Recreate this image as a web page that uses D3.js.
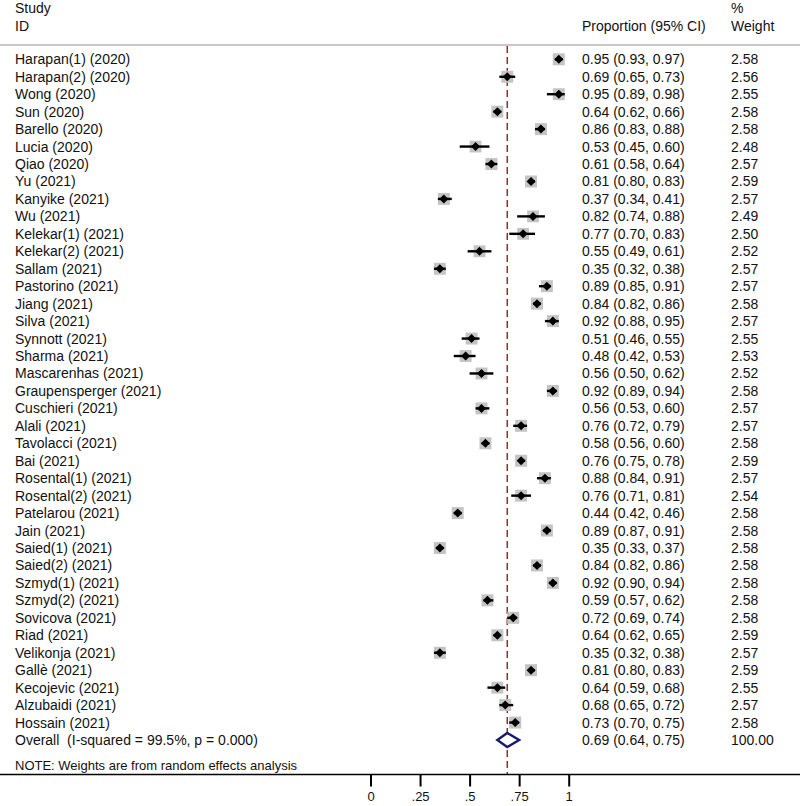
<!DOCTYPE html>
<html>
<head>
<meta charset="utf-8">
<script src="https://cdn.jsdelivr.net/npm/d3@7"></script>
<style>
  html, body { margin: 0; padding: 0; background: #fff; }
  svg { display: block; }
  text { font-family: "Liberation Sans", Arial, sans-serif; fill: #111; white-space: pre; }
</style>
</head>
<body>
<svg id="chart" width="800" height="806"></svg>
<script>
const studies = ["Harapan(1) (2020)","Harapan(2) (2020)","Wong (2020)","Sun (2020)","Barello (2020)","Lucia (2020)","Qiao (2020)","Yu (2021)","Kanyike (2021)","Wu (2021)","Kelekar(1) (2021)","Kelekar(2) (2021)","Sallam (2021)","Pastorino (2021)","Jiang (2021)","Silva (2021)","Synnott (2021)","Sharma (2021)","Mascarenhas (2021)","Graupensperger (2021)","Cuschieri (2021)","Alali (2021)","Tavolacci (2021)","Bai (2021)","Rosental(1) (2021)","Rosental(2) (2021)","Patelarou (2021)","Jain (2021)","Saied(1) (2021)","Saied(2) (2021)","Szmyd(1) (2021)","Szmyd(2) (2021)","Sovicova (2021)","Riad (2021)","Velikonja (2021)","Gallè (2021)","Kecojevic (2021)","Alzubaidi (2021)","Hossain (2021)"];
const est   = [0.95,0.69,0.95,0.64,0.86,0.53,0.61,0.81,0.37,0.82,0.77,0.55,0.35,0.89,0.84,0.92,0.51,0.48,0.56,0.92,0.56,0.76,0.58,0.76,0.88,0.76,0.44,0.89,0.35,0.84,0.92,0.59,0.72,0.64,0.35,0.81,0.64,0.68,0.73];
const lower = [0.93,0.65,0.89,0.62,0.83,0.45,0.58,0.80,0.34,0.74,0.70,0.49,0.32,0.85,0.82,0.88,0.46,0.42,0.50,0.89,0.53,0.72,0.56,0.75,0.84,0.71,0.42,0.87,0.33,0.82,0.90,0.57,0.69,0.62,0.32,0.80,0.59,0.65,0.70];
const upper = [0.97,0.73,0.98,0.66,0.88,0.60,0.64,0.83,0.41,0.88,0.83,0.61,0.38,0.91,0.86,0.95,0.55,0.53,0.62,0.94,0.60,0.79,0.60,0.78,0.91,0.81,0.46,0.91,0.37,0.86,0.94,0.62,0.74,0.65,0.38,0.83,0.68,0.72,0.75];
const weight = [2.58,2.56,2.55,2.58,2.58,2.48,2.57,2.59,2.57,2.49,2.50,2.52,2.57,2.57,2.58,2.57,2.55,2.53,2.52,2.58,2.57,2.57,2.58,2.59,2.57,2.54,2.58,2.58,2.58,2.58,2.58,2.58,2.58,2.59,2.57,2.59,2.55,2.57,2.58];
const overall = {label: "Overall  (I-squared = 99.5%, p = 0.000)", est: 0.69, lower: 0.64, upper: 0.75, weight: "100.00"};
const tickValues = [0, 0.25, 0.5, 0.75, 1];
const tickLabels = ["0", ".25", ".5", ".75", "1"];
const note = "NOTE: Weights are from random effects analysis";

const svg = d3.select("#chart");
const fmt = d3.format(".2f");

const x = d3.scaleLinear().domain([0, 1]).range([370.5, 568.7]);
const nRows = studies.length + 1;
const y = d3.scaleLinear().domain([0, nRows - 1]).range([59.3, 740]);
const boxSize = d3.scaleSqrt().domain([0, 2.59]).range([0, 12]);

const colLabel = 15, colCI = 582, colW = 731;
const fs = 14;

// header
svg.append("text").attr("x", colLabel).attr("y", 13).attr("font-size", fs).text("Study");
svg.append("text").attr("x", colLabel).attr("y", 31).attr("font-size", fs).text("ID");
svg.append("text").attr("x", colCI).attr("y", 31).attr("font-size", fs).text("Proportion (95% CI)");
svg.append("text").attr("x", colW).attr("y", 13).attr("font-size", fs).text("%");
svg.append("text").attr("x", colW).attr("y", 31).attr("font-size", fs).text("Weight");
svg.append("line").attr("x1", 0).attr("x2", 800).attr("y1", 45).attr("y2", 45)
  .attr("stroke", "#c8c8c8").attr("stroke-width", 2);

// reference dashed line at overall estimate
svg.append("line").attr("x1", x(overall.est)).attr("x2", x(overall.est))
  .attr("y1", 46).attr("y2", 774)
  .attr("stroke", "#9b2a2a").attr("stroke-width", 1.5).attr("stroke-dasharray", "7,4");

const rows = studies.map((s, i) => ({label: s, est: est[i], lo: lower[i], hi: upper[i], w: weight[i], i}));

const g = svg.append("g");
// weight boxes
g.selectAll("rect.box").data(rows).enter().append("rect")
  .attr("x", d => x(d.est) - boxSize(d.w) / 2)
  .attr("y", d => y(d.i) - boxSize(d.w) / 2)
  .attr("width", d => boxSize(d.w)).attr("height", d => boxSize(d.w))
  .attr("fill", "#c4c4c4");
// CI lines
g.selectAll("line.ci").data(rows).enter().append("line")
  .attr("x1", d => x(d.lo)).attr("x2", d => x(d.hi))
  .attr("y1", d => y(d.i)).attr("y2", d => y(d.i))
  .attr("stroke", "#000").attr("stroke-width", 2.4);
// point diamonds
g.selectAll("path.pt").data(rows).enter().append("path")
  .attr("d", d => {
    const cx = x(d.est), cy = y(d.i), r = 4.5;
    return `M${cx - r},${cy}L${cx},${cy - r}L${cx + r},${cy}L${cx},${cy + r}Z`;
  })
  .attr("fill", "#000");

// labels
g.selectAll("text.lab").data(rows).enter().append("text")
  .attr("x", colLabel).attr("y", d => y(d.i) + 5).attr("font-size", fs).text(d => d.label);
g.selectAll("text.ci").data(rows).enter().append("text")
  .attr("x", colCI).attr("y", d => y(d.i) + 5).attr("font-size", fs)
  .text(d => `${fmt(d.est)} (${fmt(d.lo)}, ${fmt(d.hi)})`);
g.selectAll("text.w").data(rows).enter().append("text")
  .attr("x", colW).attr("y", d => y(d.i) + 5).attr("font-size", fs).text(d => fmt(d.w));

// overall
const oy = y(nRows - 1);
svg.append("path")
  .attr("d", `M${x(overall.lower)},${oy}L${x(overall.est)},${oy - 7}L${x(overall.upper)},${oy}L${x(overall.est)},${oy + 7}Z`)
  .attr("fill", "#fff").attr("stroke", "#1a1a70").attr("stroke-width", 2.4);
svg.append("text").attr("x", colLabel).attr("y", oy + 5).attr("font-size", fs).text(overall.label);
svg.append("text").attr("x", colCI).attr("y", oy + 5).attr("font-size", fs)
  .text(`${fmt(overall.est)} (${fmt(overall.lower)}, ${fmt(overall.upper)})`);
svg.append("text").attr("x", colW).attr("y", oy + 5).attr("font-size", fs).text(overall.weight);

// note
svg.append("text").attr("x", colLabel).attr("y", 770).attr("font-size", 13).text(note);

// axis
svg.append("line").attr("x1", 0).attr("x2", 800).attr("y1", 774.5).attr("y2", 774.5)
  .attr("stroke", "#000").attr("stroke-width", 1.6);
const axis = d3.axisBottom(x).tickValues(tickValues).tickSize(12).tickPadding(5)
  .tickFormat((d, i) => tickLabels[i]);
const ax = svg.append("g").attr("transform", "translate(0,774.5)").call(axis);
ax.select(".domain").remove();
ax.selectAll(".tick line").attr("stroke", "#000").attr("stroke-width", 2);
ax.selectAll(".tick text").attr("font-size", 13).attr("font-family", "Liberation Sans, Arial, sans-serif").attr("fill", "#111");
</script>
</body>
</html>
